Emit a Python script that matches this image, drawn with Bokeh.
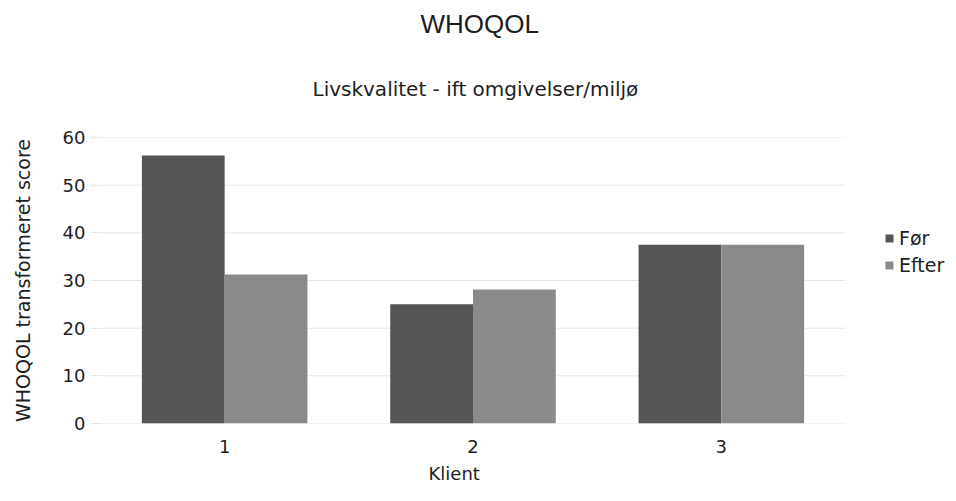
from bokeh.plotting import figure
from bokeh.models import Range1d, Legend, LegendItem, Title, ColumnDataSource, FixedTicker
from bokeh.embed import file_html
from bokeh.resources import INLINE

clients = ["1", "2", "3"]
series = ["Før", "Efter"]
foer = [56.25, 25.0, 37.5]
efter = [31.25, 28.125, 37.5]
y_ticks = [0, 10, 20, 30, 40, 50, 60]

FONT = "DejaVu Sans"
TFONT = "Liberation Sans"
TXT = "#1e1e1e"

n = len(clients)
centers = [i + 0.5 for i in range(n)]
bar_w = 1 / 3
src = ColumnDataSource(dict(xf=[c - bar_w / 2 for c in centers],
                            xe=[c + bar_w / 2 for c in centers],
                            foer=foer, efter=efter))
grid_src = ColumnDataSource(dict(y=y_ticks, x0=[0] * len(y_ticks), x1=[n] * len(y_ticks)))

# frame extends to the right to make room for the legend
p = figure(x_range=Range1d(0, n * 848 / 745), y_range=Range1d(0, 60),
           width=948, height=493,
           min_border_left=100, min_border_top=137, min_border_bottom=70, min_border_right=0,
           output_backend="svg", toolbar_location=None)
p.outline_line_color = None
p.background_fill_color = "white"
p.xgrid.grid_line_color = None
p.ygrid.grid_line_color = None

p.segment(x0="x0", x1="x1", y0="y", y1="y", source=grid_src, line_color="#e6e6e6", line_width=1)

r1 = p.vbar(x="xf", top="foer", width=bar_w, source=src, fill_color="#555555", line_color=None)
r2 = p.vbar(x="xe", top="efter", width=bar_w, source=src, fill_color="#8a8a8a", line_color=None)

p.yaxis.ticker = y_ticks
p.yaxis.axis_line_color = None
p.yaxis.major_tick_line_color = "#e6e6e6"
p.yaxis.major_tick_out = 10
p.yaxis.major_tick_in = 0
p.yaxis.minor_tick_line_color = None
p.yaxis.major_label_standoff = 5
p.yaxis.major_label_text_font = FONT
p.yaxis.major_label_text_font_size = "18px"
p.yaxis.major_label_text_color = TXT
p.yaxis.axis_label = "WHOQOL transformeret score"
p.yaxis.axis_label_text_font = FONT
p.yaxis.axis_label_text_font_size = "19px"
p.yaxis.axis_label_text_font_style = "normal"
p.yaxis.axis_label_text_color = TXT
p.yaxis.axis_label_standoff = 26

p.xaxis.ticker = FixedTicker(ticks=centers)
p.xaxis.major_label_overrides = {c: lab for c, lab in zip(centers, clients)}
p.xaxis.axis_line_color = None
p.xaxis.major_tick_line_color = None
p.xaxis.minor_tick_line_color = None
p.xaxis.major_tick_out = 0
p.xaxis.major_tick_in = 0
p.xaxis.major_label_standoff = 16
p.xaxis.major_label_text_font = FONT
p.xaxis.major_label_text_font_size = "18px"
p.xaxis.major_label_text_color = TXT

p.add_layout(Title(text="Klient", align="left", offset=328,
                   text_font=FONT, text_font_size="18px", text_font_style="normal",
                   text_color=TXT, standoff=10), "below")

legend = Legend(items=[LegendItem(label=series[0], renderers=[r1]),
                       LegendItem(label=series[1], renderers=[r2])],
                location=(784, 147), border_line_color=None, background_fill_alpha=0,
                label_text_font=FONT, label_text_font_size="19px", label_text_color=TXT,
                glyph_width=10, glyph_height=10, label_height=20, spacing=5,
                label_standoff=5, padding=4, margin=0)
p.add_layout(legend)

p.add_layout(Title(text="Livskvalitet - ift omgivelser/miljø", align="left", offset=212,
                   text_font=FONT, text_font_size="20px", text_font_style="normal",
                   text_color=TXT, standoff=73), "above")
p.add_layout(Title(text="WHOQOL", align="left", offset=320,
                   text_font=TFONT, text_font_size="26px", text_font_style="normal",
                   text_color=TXT, standoff=0), "above")

open("out.html", "w").write(file_html(p, INLINE))
